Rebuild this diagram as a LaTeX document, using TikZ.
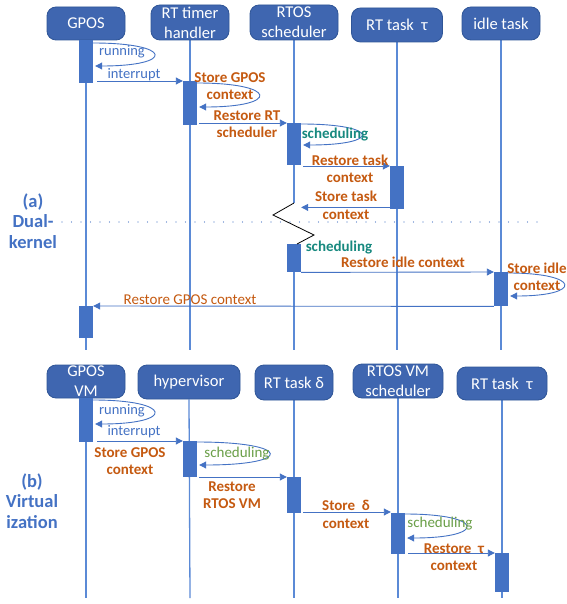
\documentclass[tikz,border=0pt]{standalone}
\usepackage{fontspec}
\setmainfont{Carlito}
\usetikzlibrary{arrows.meta,calc,backgrounds}
\definecolor{hdr}{HTML}{3F66B0}
\definecolor{hdrb}{HTML}{2F5597}
\definecolor{actc}{HTML}{4472C4}
\definecolor{lifec}{HTML}{5B8AD6}
\definecolor{org}{HTML}{C55A11}
\definecolor{mteal}{HTML}{17897F}
\definecolor{grn}{HTML}{6A9F48}
\begin{document}
\begin{tikzpicture}[x=1pt,y=-1pt,
 hdrbox/.style={draw=hdrb, fill=hdr, rounded corners=9pt, text=white, font=\fontsize{16.5}{20}\selectfont, align=center, inner sep=0pt, line width=0.8pt},
 actbox/.style={fill=actc, draw=none, minimum width=14pt, inner sep=0pt, anchor=north},
 life/.style={draw=lifec, line width=1.3pt},
 msg/.style={draw=actc, line width=0.9pt, -{Triangle[length=7pt,width=7pt]}},
 olbl/.style={text=org, font=\bfseries\fontsize{15}{17.5}\selectfont, align=center, inner sep=0pt},
 onorm/.style={text=org, font=\fontsize{15}{17.5}\selectfont, align=center, inner sep=0pt},
 blbl/.style={text=actc, font=\fontsize{14.5}{17}\selectfont, align=center, inner sep=0pt},
 tlbl/.style={text=mteal, font=\bfseries\fontsize{15}{17.5}\selectfont, align=center, inner sep=0pt},
 glbl/.style={text=grn, font=\fontsize{15}{17.5}\selectfont, align=center, inner sep=0pt},
 seclbl/.style={text=actc, font=\bfseries\fontsize{18.5}{20.5}\selectfont, align=center, inner sep=0pt},
 zig/.style={draw=black, line width=0.8pt},
 sep/.style={draw=actc, line width=1.3pt, line cap=round, dash pattern=on 0pt off 9.5pt}]
\useasboundingbox (0,0) rectangle (566,604);

% ---------- (a) headers ----------
\node[hdrbox, minimum width=78pt, minimum height=33pt] (H1) at (86,23.5) {GPOS};
\node[hdrbox, minimum width=78pt, minimum height=35pt] (H2) at (190,22.5) {RT timer\\handler};
\node[hdrbox, minimum width=88pt, minimum height=35pt] (H3) at (294,22.5) {RTOS\\scheduler};
\node[hdrbox, minimum width=91pt, minimum height=34pt] (H4) at (397,25) {RT task \ τ};
\node[hdrbox, minimum width=78pt, minimum height=33pt] (H5) at (501,23.5) {idle task};

% ---------- (b) headers ----------
\node[hdrbox, minimum width=78pt, minimum height=33pt] (G1) at (86,381.5) {GPOS\\VM};
\node[hdrbox, minimum width=102pt, minimum height=34pt] (G2) at (189,382) {hypervisor};
\node[hdrbox, minimum width=78pt, minimum height=35pt] (G3) at (294,382.5) {RT task δ};
\node[hdrbox, minimum width=90pt, minimum height=34pt] (G4) at (398,381) {RTOS VM\\scheduler};
\node[hdrbox, minimum width=90pt, minimum height=33pt] (G5) at (502,383.5) {RT task \ τ};

% ---------- lifeline ends ----------
\coordinate (E1) at (86,350);
\coordinate (E2) at (190,350);
\coordinate (E3) at (294,350);
\coordinate (E4) at (397,350);
\coordinate (E5) at (501,350);
\coordinate (F1) at (86,598);
\coordinate (F2) at (190,598);
\coordinate (F3) at (294,598);
\coordinate (F4) at (398,598);
\coordinate (F5) at (502,598);
\coordinate (Z0) at (294,203);
\coordinate (Z1) at (273,215);
\coordinate (Z2) at (314,235);
\coordinate (Z3) at (297,244);
\coordinate (D0) at (62,222);
\coordinate (D1) at (543,222);

% ---------- activations (a) ----------
\node[actbox, minimum height=43pt] (A1) at (86,40) {};
\node[actbox, minimum height=44pt] (A2) at (190,81) {};
\node[actbox, minimum height=42pt] (A3) at (294,123) {};
\node[actbox, minimum height=43pt] (A4) at (397,166) {};
\node[actbox, minimum height=28pt] (A5) at (294,244) {};
\node[actbox, minimum height=34pt] (A6) at (501,272) {};
\node[actbox, minimum height=32pt] (A7) at (86,306) {};

% ---------- activations (b) ----------
\node[actbox, minimum height=44pt] (B1) at (86,398) {};
\node[actbox, minimum height=36pt] (B2) at (190,441) {};
\node[actbox, minimum height=36pt] (B3) at (294,477) {};
\node[actbox, minimum height=41pt] (B4) at (398,513) {};
\node[actbox, minimum height=39pt] (B5) at (502,553) {};

% ---------- lifelines ----------
\begin{scope}[on background layer]
\fill[white] (0,0) rectangle (566,604);
\draw[life] (H1.south) -- (E1);
\draw[life] (H2.south) -- (E2);
\draw[life] (H3.south) -- (Z0);
\draw[life] (A5.south) -- (E3);
\draw[life] (H4.south) -- (E4);
\draw[life] (H5.south) -- (E5);
\draw[life] (G1.south) -- (F1);
\draw[life] (G2.south) -- (F2);
\draw[life] (G3.south) -- (F3);
\draw[life] (G4.south) -- (F4);
\draw[life] (G5.south) -- (F5);
\draw[sep] (D0) -- (D1);
\end{scope}
\draw[zig] (Z0) -- (Z1) -- (Z2) -- (Z3);

% ---------- messages (a) ----------
\draw[msg] ($(A1.north east)+(0,3)$) .. controls +(80,0) and +(80,0) .. ($(A1.north east)+(2,26)$);
\draw[msg] ($(A1.east |- A2.north)+(4,0)$) -- (A2.north west);
\draw[msg] ($(A2.north east)+(0,2)$) .. controls +(81,0) and +(81,0) .. ($(A2.north east)+(2,26)$);
\draw[msg] ($(A2.east |- A3.north)+(2,0)$) -- (A3.north west);
\draw[msg] ($(A3.north east)+(0,1)$) .. controls +(79,0) and +(79,0) .. ($(A3.north east)+(2,22)$);
\draw[msg] ($(A3.east |- A4.north)+(2,0)$) -- (A4.north west);
\draw[msg] ($(A4.south west)+(0,-2)$) -- ($(A3.south east |- A4.south)+(0,-2)$);
\draw[msg] (A5.south east) -- (A6.north west);
\draw[msg] ($(A6.north east)+(0,1)$) .. controls +(73,0) and +(73,0) .. ($(A6.north east)+(2,24)$);
\draw[msg] (A6.south west) -- (A7.north east);

% ---------- messages (b) ----------
\draw[msg] ($(B1.north east)+(0,2)$) .. controls +(80,0) and +(80,0) .. ($(B1.north east)+(2,26)$);
\draw[msg] ($(B1.east |- B2.north)+(4,0)$) -- (B2.north west);
\draw[msg] ($(B2.north east)+(0,1)$) .. controls +(95,0) and +(95,0) .. ($(B2.north east)+(2,24)$);
\draw[msg] ($(B2.east |- B3.north)+(2,0)$) -- (B3.north west);
\draw[msg] ($(B3.east |- B4.north)+(2,-1)$) -- ($(B4.north west)+(0,-1)$);
\draw[msg] ($(B4.north east)+(0,1)$) .. controls +(80,0) and +(80,0) .. ($(B4.north east)+(2,25)$);
\draw[msg] ($(B4.east |- B5.north)+(3,0)$) -- (B5.north west);

% ---------- labels (a) ----------
\node[blbl] (l1) at (122,52) {running};
\node[blbl] (l2) at (134,75) {interrupt};
\node[olbl] (l3) at (230,86) {Store GPOS\\context};
\node[olbl] (l4) at (247,124) {Restore RT\\scheduler};
\node[tlbl] (l5) at (335,135) {scheduling};
\node[olbl] (l6) at (350,169) {Restore task\\context};
\node[olbl] (l7) at (346,205.5) {Store task\\context};
\node[tlbl] (l8) at (339,248) {scheduling};
\node[olbl] (l9) at (403,262) {Restore idle context};
\node[olbl] (l10) at (537,277) {Store idle\\context};
\node[onorm] (l11) at (190,300) {Restore GPOS context};
\node[seclbl] (sa) at (33,221) {(a)\\Dual-\\kernel};

% ---------- labels (b) ----------
\node[blbl] (m1) at (122,411) {running};
\node[blbl] (m2) at (134,432) {interrupt};
\node[olbl] (m3) at (130,461) {Store GPOS\\context};
\node[glbl] (m4) at (237,454) {scheduling};
\node[olbl] (m5) at (232,495) {Restore\\RTOS VM};
\node[olbl] (m6) at (346,514.5) {Store \ δ\\context};
\node[glbl] (m7) at (440,524) {scheduling};
\node[olbl] (m8) at (454,557) {Restore \ τ\\context};
\node[seclbl] (sb) at (32,501) {(b)\\Virtual\\ization};
\end{tikzpicture}
\end{document}
